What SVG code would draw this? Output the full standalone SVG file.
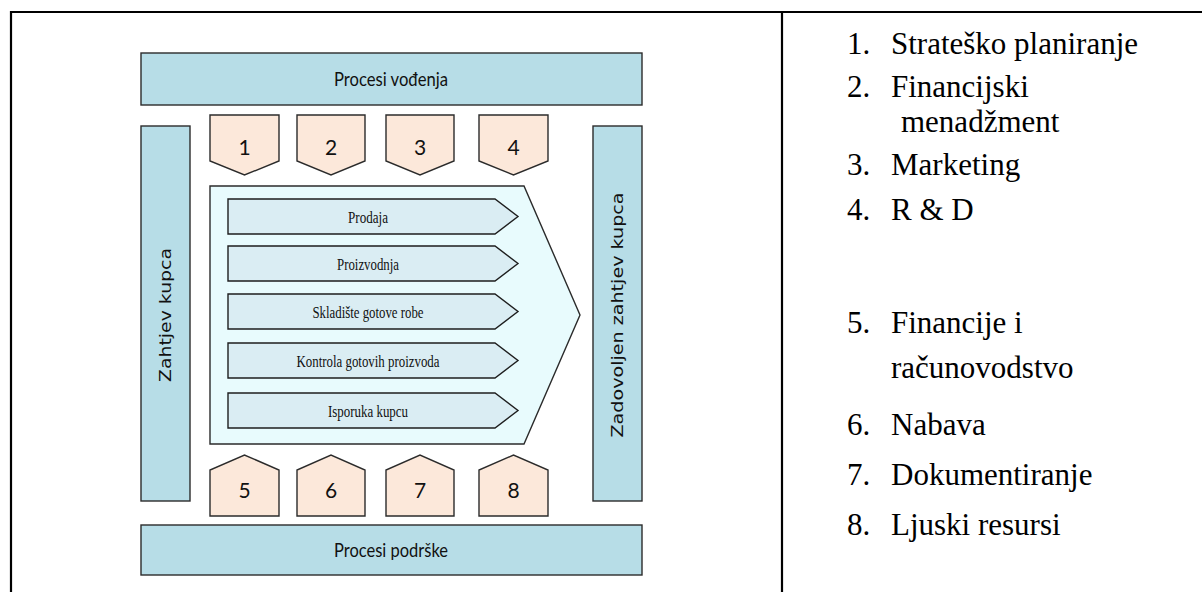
<svg xmlns="http://www.w3.org/2000/svg" width="1202" height="592" viewBox="0 0 1202 592">
  <style>
    .frame { stroke: #000; stroke-width: 2.2; fill: none; }
    .bar { fill: #b7dde7; stroke: #2b2b2b; stroke-width: 1.4; }
    .tab { fill: #fce8da; stroke: #2b2b2b; stroke-width: 1.4; }
    .flow { fill: #e8fbfd; stroke: #2b2b2b; stroke-width: 1.4; }
    .step { fill: #daedf3; stroke: #1e1e1e; stroke-width: 1.4; }
  </style>

  <!-- table frame -->
  <g id="frame">
    <line class="frame" x1="11" y1="12" x2="1202" y2="12"/>
    <line class="frame" x1="11" y1="11" x2="11" y2="592"/>
    <line class="frame" x1="782" y1="11" x2="782" y2="592"/>
  </g>

  <!-- management processes -->
  <g id="top-bar">
    <rect class="bar" x="141" y="53" width="501" height="52"/>
    <text font-family="Lato, 'Open Sans', sans-serif" font-size="20" fill="#111" x="391" y="86" text-anchor="middle" textLength="114" lengthAdjust="spacingAndGlyphs">Procesi vođenja</text>
  </g>

  <!-- support processes -->
  <g id="bottom-bar">
    <rect class="bar" x="141" y="525" width="501" height="50"/>
    <text font-family="Lato, 'Open Sans', sans-serif" font-size="20" fill="#111" x="391" y="557" text-anchor="middle" textLength="114" lengthAdjust="spacingAndGlyphs">Procesi podrške</text>
  </g>

  <!-- customer request / fulfilled request -->
  <g id="left-bar">
    <rect class="bar" x="141" y="126" width="49" height="375"/>
    <text font-family="'DejaVu Sans', Verdana, sans-serif" font-size="16" fill="#111" transform="translate(171 315) rotate(-90)" text-anchor="middle" textLength="134" lengthAdjust="spacingAndGlyphs">Zahtjev kupca</text>
  </g>
  <g id="right-bar">
    <rect class="bar" x="593" y="126" width="49" height="375"/>
    <text font-family="'DejaVu Sans', Verdana, sans-serif" font-size="16" fill="#111" transform="translate(623 315) rotate(-90)" text-anchor="middle" textLength="245" lengthAdjust="spacingAndGlyphs">Zadovoljen zahtjev kupca</text>
  </g>

  <g font-family="Lato, 'Open Sans', sans-serif" font-size="21" fill="#111" text-anchor="middle">
    <!-- top input tabs -->
    <g id="tab-1">
      <path class="tab" d="M210 115 H279 V161 L244.5 175 L210 161 Z"/>
      <text x="244.5" y="155">1</text>
    </g>
    <g id="tab-2">
      <path class="tab" d="M297 115 H365 V161 L331 175 L297 161 Z"/>
      <text x="331" y="155">2</text>
    </g>
    <g id="tab-3">
      <path class="tab" d="M386 115 H454 V161 L420 175 L386 161 Z"/>
      <text x="420" y="155">3</text>
    </g>
    <g id="tab-4">
      <path class="tab" d="M479 115 H548 V161 L513.5 175 L479 161 Z"/>
      <text x="513.5" y="155">4</text>
    </g>

    <!-- bottom input tabs -->
    <g id="tab-5">
      <path class="tab" d="M210 516 H279 V470 L244.5 455 L210 470 Z"/>
      <text x="244.5" y="498">5</text>
    </g>
    <g id="tab-6">
      <path class="tab" d="M297 516 H365 V470 L331 455 L297 470 Z"/>
      <text x="331" y="498">6</text>
    </g>
    <g id="tab-7">
      <path class="tab" d="M386 516 H454 V470 L420 455 L386 470 Z"/>
      <text x="420" y="498">7</text>
    </g>
    <g id="tab-8">
      <path class="tab" d="M479 516 H548 V470 L513.5 455 L479 470 Z"/>
      <text x="513.5" y="498">8</text>
    </g>
  </g>

  <!-- core process chevron -->
  <g id="core-flow">
    <path class="flow" d="M210 186 H524 L580 315 L524 444 H210 Z"/>
  </g>

  <!-- process steps -->
  <g font-family="'Liberation Serif', 'Times New Roman', 'DejaVu Serif', serif" font-size="16" fill="#111" text-anchor="middle">
    <g id="step-1">
      <path class="step" d="M228 199 H495 L518 216.5 L495 234 H228 Z"/>
      <text x="368" y="223" textLength="40" lengthAdjust="spacingAndGlyphs">Prodaja</text>
    </g>
    <g id="step-2">
      <path class="step" d="M228 246 H495 L518 263.5 L495 281 H228 Z"/>
      <text x="368" y="270" textLength="62" lengthAdjust="spacingAndGlyphs">Proizvodnja</text>
    </g>
    <g id="step-3">
      <path class="step" d="M228 294 H495 L518 311.5 L495 329 H228 Z"/>
      <text x="368" y="318" textLength="111" lengthAdjust="spacingAndGlyphs">Skladište gotove robe</text>
    </g>
    <g id="step-4">
      <path class="step" d="M228 343 H495 L518 360.5 L495 378 H228 Z"/>
      <text x="368" y="367" textLength="143" lengthAdjust="spacingAndGlyphs">Kontrola gotovih proizvoda</text>
    </g>
    <g id="step-5">
      <path class="step" d="M228 393 H495 L518 410.5 L495 428 H228 Z"/>
      <text x="368" y="417" textLength="80" lengthAdjust="spacingAndGlyphs">Isporuka kupcu</text>
    </g>
  </g>

  <!-- legend -->
  <g id="legend" font-family="'Liberation Serif', 'Times New Roman', 'DejaVu Serif', serif" font-size="31" fill="#000">
    <text x="847" y="54">1.</text><text x="891" y="54">Strateško planiranje</text>
    <text x="847" y="97">2.</text><text x="891" y="97">Financijski</text>
    <text x="901" y="132">menadžment</text>
    <text x="847" y="175">3.</text><text x="891" y="175">Marketing</text>
    <text x="847" y="220">4.</text><text x="891" y="220">R &amp; D</text>
    <text x="847" y="333">5.</text><text x="891" y="333">Financije i</text>
    <text x="891" y="378">računovodstvo</text>
    <text x="847" y="435">6.</text><text x="891" y="435">Nabava</text>
    <text x="847" y="485">7.</text><text x="891" y="485">Dokumentiranje</text>
    <text x="847" y="535">8.</text><text x="891" y="535">Ljuski resursi</text>
  </g>
</svg>
